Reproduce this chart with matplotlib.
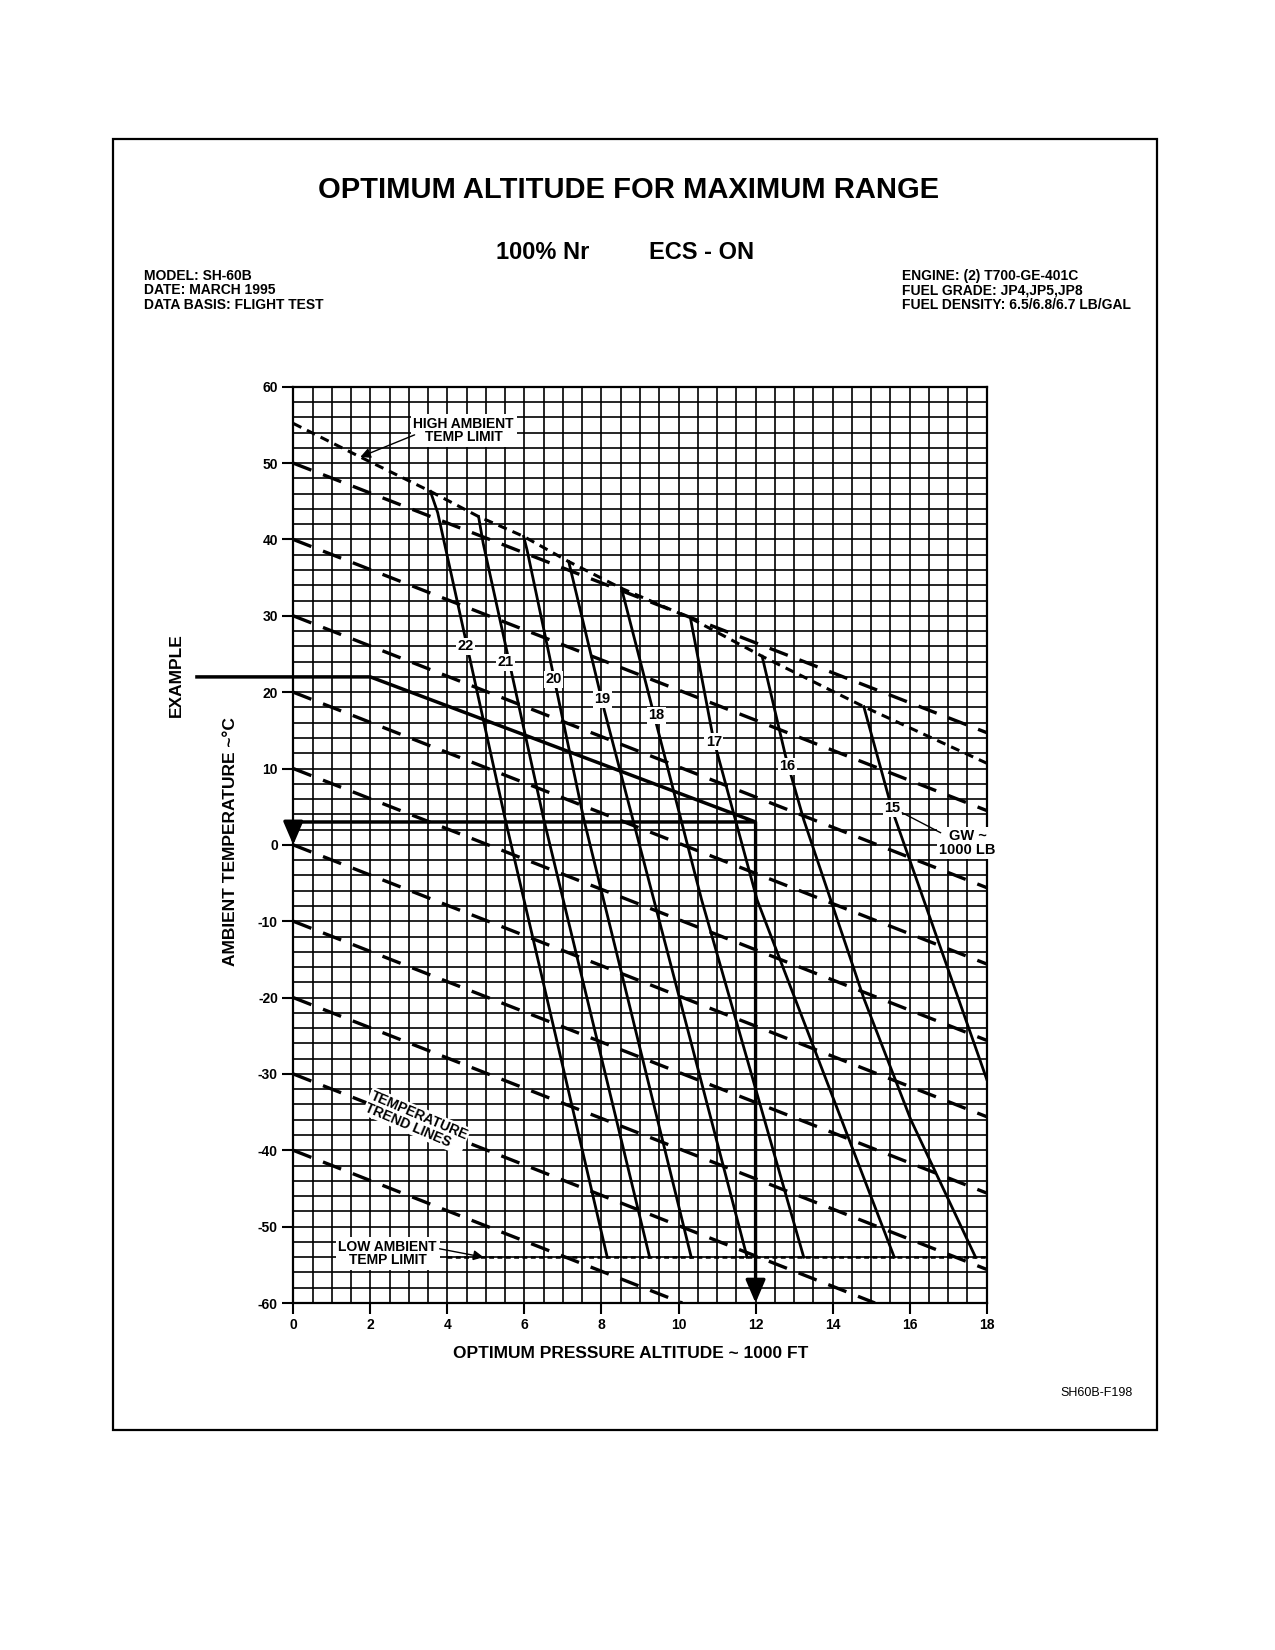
import matplotlib
matplotlib.use('Agg')
import matplotlib.pyplot as plt
from matplotlib.ticker import MultipleLocator
from matplotlib.patches import Rectangle

plt.rcParams['font.family'] = ['Liberation Sans', 'DejaVu Sans']
plt.rcParams['font.weight'] = 'bold'
plt.rcParams['axes.unicode_minus'] = False
plt.rcParams['lines.scale_dashes'] = False

# lineas de peso bruto (GW ~ 1000 LB)
gw_labels = ['22', '21', '20', '19', '18', '17', '16', '15']
gw_x = [
    [3.56, 3.75, 5.5, 8.15],
    [4.81, 4.93, 6.5, 9.25],
    [5.98, 6.07, 7.54, 10.33],
    [7.15, 8.06, 9.36, 11.78],
    [8.52, 10.6, 13.25],
    [10.31, 10.9, 12.04, 15.6],
    [12.17, 12.78, 13.25, 14.81, 16.03, 17.71],
    [14.81, 15.55, 18.0],
]
gw_T = [
    [46.3, 43.5, 3.4, -54],
    [43.0, 39.5, 3.4, -54],
    [40.4, 38.6, 3.4, -54],
    [37.1, 17.9, -7.2, -54],
    [33.6, -7.2, -54],
    [29.7, 14.0, -7.2, -54],
    [24.7, 11.6, 3.3, -20.1, -36.0, -54],
    [18.1, 4.5, -30.7],
]
gw_label_x = [4.47, 5.5, 6.75, 8.02, 9.42, 10.92, 12.82, 15.55]
gw_label_T = [26.0, 23.9, 21.7, 19.1, 17.0, 13.5, 10.3, 4.8]

# lineas de tendencia de temperatura
trend_T0 = [50, 40, 30, 20, 10, 0, -10, -20, -30, -40]
trend_x1 = [18, 18, 18, 18, 18, 18, 18, 18, 15.1, 10.1]
trend_T1 = [14.7, 4.5, -5.6, -15.6, -25.6, -35.6, -45.6, -55.6, -60, -60]

# limites de temperatura
high_x = [0, 1.74, 3.56, 4.81, 5.98, 7.15, 8.52, 10.31, 12.17, 14.81, 18]
high_T = [55.2, 50.8, 46.3, 43.0, 40.4, 37.1, 33.6, 29.7, 24.7, 18.1, 10.7]
low_x = [4.0, 18]
low_T = [-54, -54]

# ejemplo
example_x = [-2.5, 2, 12, 0]
example_T = [22, 22, 3, 3]
example_alt = 12
example_temp = 3

fig = plt.figure(figsize=(12.75, 16.5), dpi=100)
fig.add_artist(Rectangle((0.089, 0.1333), 0.8185, 0.7827, transform=fig.transFigure,
                         fill=False, lw=1.6, color='black'))

fig.text(0.493, 0.885, 'OPTIMUM ALTITUDE FOR MAXIMUM RANGE', ha='center', va='center', fontsize=21)
fig.text(0.426, 0.847, '100% Nr', ha='center', va='center', fontsize=17)
fig.text(0.550, 0.847, 'ECS - ON', ha='center', va='center', fontsize=17)

left_info = ['MODEL: SH-60B', 'DATE: MARCH 1995', 'DATA BASIS: FLIGHT TEST']
right_info = ['ENGINE: (2) T700-GE-401C', 'FUEL GRADE: JP4,JP5,JP8', 'FUEL DENSITY: 6.5/6.8/6.7 LB/GAL']
info_y = [0.833, 0.8242, 0.8152]
for txt, y in zip(left_info, info_y):
    fig.text(0.1129, y, txt, ha='left', va='center', fontsize=10)
for txt, y in zip(right_info, info_y):
    fig.text(0.7075, y, txt, ha='left', va='center', fontsize=10)

fig.text(0.888, 0.1558, 'SH60B-F198', ha='right', va='center', fontsize=9, fontweight='normal')
fig.text(0.1386, 0.5909, 'EXAMPLE', rotation=90, ha='center', va='center', fontsize=12.5)
fig.text(0.1804, 0.4897, 'AMBIENT TEMPERATURE ~°C', rotation=90, ha='center', va='center', fontsize=12.5)
fig.text(0.4949, 0.1794, 'OPTIMUM PRESSURE ALTITUDE ~ 1000 FT', ha='center', va='center', fontsize=12.5)

ax = fig.add_axes([0.2300, 0.2103, 0.5439, 0.5553])
ax.set_xlim(0, 18)
ax.set_ylim(-60, 60)
ax.xaxis.set_major_locator(MultipleLocator(2))
ax.xaxis.set_minor_locator(MultipleLocator(0.5))
ax.yaxis.set_major_locator(MultipleLocator(10))
ax.yaxis.set_minor_locator(MultipleLocator(2))
ax.grid(which='both', color='black', lw=1.2)
ax.set_axisbelow(True)
ax.tick_params(which='major', direction='out', length=8, width=1.5, labelsize=10, pad=3)
ax.tick_params(which='minor', length=0)
for s in ax.spines.values():
    s.set_linewidth(1.6)

# tendencias
for t0, x1, t1 in zip(trend_T0, trend_x1, trend_T1):
    ax.plot([0, x1], [t0, t1], color='black', lw=2.4, dashes=(14, 9), zorder=3)

ax.plot(high_x, high_T, color='black', lw=2.2, dashes=(6.5, 4.5), zorder=3)
ax.plot(low_x, low_T, color='black', lw=1.8, dashes=(3.5, 2.5), zorder=3)

# pesos brutos
for xs, ts in zip(gw_x, gw_T):
    ax.plot(xs, ts, color='black', lw=2.0, zorder=4)
for lab, x, t in zip(gw_labels, gw_label_x, gw_label_T):
    ax.text(x, t, lab, ha='center', va='center', fontsize=10.5, zorder=6,
            bbox=dict(facecolor='white', edgecolor='none', pad=1))

# ejemplo
ax.plot(example_x, example_T, color='black', lw=2.5, zorder=5, clip_on=False, solid_joinstyle='miter')
arrow = dict(arrowstyle='-|>,head_length=0.7,head_width=0.3', color='black', lw=2.4,
             mutation_scale=20, shrinkA=0, shrinkB=0)
ax.annotate('', xy=(0, 0), xytext=(0, example_temp), arrowprops=arrow, zorder=5)
ax.annotate('', xy=(example_alt, -60), xytext=(example_alt, example_temp), arrowprops=arrow, zorder=5)

# notas
ax.text(4.42, 54.3, 'HIGH AMBIENT\nTEMP LIMIT', ha='center', va='center', fontsize=10,
        linespacing=0.95, zorder=6, bbox=dict(facecolor='white', edgecolor='none', pad=2))
ax.annotate('', xy=(1.74, 50.8), xytext=(3.15, 53.7),
            arrowprops=dict(arrowstyle='-|>,head_length=0.5,head_width=0.25', color='black',
                            lw=1, mutation_scale=12, shrinkA=0, shrinkB=0), zorder=6)

ax.text(2.45, -53.5, 'LOW AMBIENT\nTEMP LIMIT', ha='center', va='center', fontsize=10,
        linespacing=0.95, zorder=6, bbox=dict(facecolor='white', edgecolor='none', pad=2))
ax.annotate('', xy=(4.94, -54), xytext=(3.8, -52.9),
            arrowprops=dict(arrowstyle='-|>,head_length=0.5,head_width=0.25', color='black',
                            lw=1, mutation_scale=12, shrinkA=0, shrinkB=0), zorder=6)

ax.text(3.2, -36.2, 'TEMPERATURE\nTREND LINES', rotation=-23, rotation_mode='anchor',
        ha='center', va='center', multialignment='left', fontsize=10, linespacing=0.9, zorder=6,
        bbox=dict(facecolor='white', edgecolor='none', pad=1))

ax.text(17.5, 0.2, 'GW ~\n1000 LB', ha='center', va='center', fontsize=10.5, linespacing=1.0,
        zorder=6, bbox=dict(facecolor='white', edgecolor='none', pad=1.5))
ax.plot([15.81, 16.8], [4.2, 1.6], color='black', lw=1, zorder=6)

fig.savefig('out.png', dpi=100)
